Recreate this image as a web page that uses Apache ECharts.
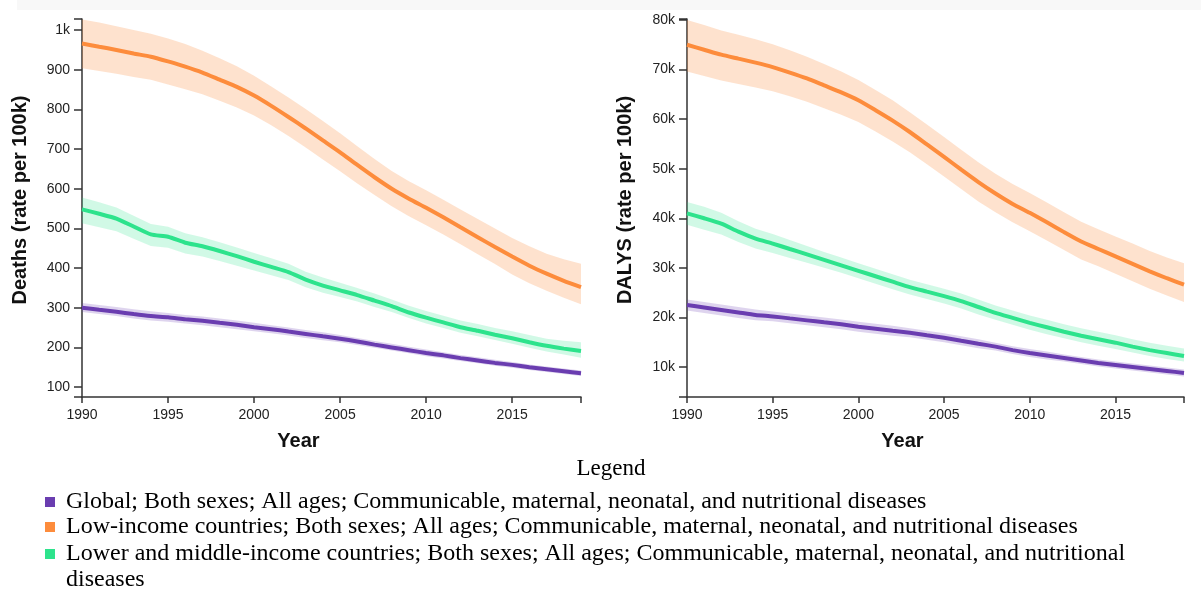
<!DOCTYPE html>
<html><head><meta charset="utf-8">
<script src="https://cdn.jsdelivr.net/npm/echarts@6/dist/echarts.min.js"></script>
<style>html,body{margin:0;padding:0;background:#fff}#c{width:1201px;height:591px}</style>
</head><body><div id="c"></div>
<script>
const years = [1990,1991,1992,1993,1994,1995,1996,1997,1998,1999,2000,2001,2002,2003,2004,2005,2006,2007,2008,2009,2010,2011,2012,2013,2014,2015,2016,2017,2018,2019];
const seriesNames = [
  'Global; Both sexes; All ages; Communicable, maternal, neonatal, and nutritional diseases',
  'Low-income countries; Both sexes; All ages; Communicable, maternal, neonatal, and nutritional diseases',
  'Lower and middle-income countries; Both sexes; All ages; Communicable, maternal, neonatal, and nutritional diseases'
];
const seriesColors = ['#6a3db0', '#fd8c3c', '#2de38c'];

// Deaths (rate per 100k)
const deathsGlobal = [300,295,290,284,279,276,271,267,262,257,251,246,240,234,228,222,215,207,200,193,186,180,173,167,161,156,150,145,140,135];
const deathsGlobalUpper = [312,307,302,296,291,287,282,278,273,268,262,256,250,244,238,231,224,216,209,202,195,188,181,175,169,163,157,152,147,142];
const deathsGlobalLower = [289,284,279,273,268,265,260,256,251,246,241,236,230,224,218,213,206,199,192,185,178,172,166,160,154,149,143,138,133,128];
const deathsLow = [966,958,950,941,933,921,908,893,875,857,835,809,781,752,722,692,660,629,600,575,552,528,503,478,453,429,406,386,368,352];
const deathsLowUpper = [1027,1019,1010,1000,991,979,965,948,929,909,885,858,830,801,771,740,707,675,645,619,596,572,548,524,500,476,455,436,422,411];
const deathsLowLower = [904,897,890,882,875,863,851,838,822,805,785,760,733,704,674,644,613,584,556,531,508,485,460,435,410,384,362,343,325,309];
const deathsLmic = [548,537,525,505,485,479,464,455,443,430,416,403,390,371,356,344,332,318,304,288,275,263,251,242,232,223,213,204,197,191];
const deathsLmicUpper = [578,566,553,532,511,504,488,478,465,452,438,425,411,391,376,363,350,336,321,305,292,280,268,259,249,241,231,222,217,213];
const deathsLmicLower = [513,503,493,474,456,451,437,429,418,406,394,382,370,352,338,327,316,302,289,274,260,249,237,228,219,209,199,190,182,174];

// DALYs (rate per 100k)
const dalysGlobal = [22500,22000,21500,21000,20500,20200,19800,19400,19000,18600,18100,17700,17300,16900,16400,15900,15300,14700,14100,13400,12800,12300,11800,11300,10800,10400,10000,9600,9200,8800];
const dalysGlobalUpper = [23600,23100,22600,22100,21600,21200,20800,20400,20000,19600,19100,18700,18300,17800,17300,16800,16200,15600,14900,14200,13600,13100,12500,12000,11500,11100,10700,10300,9900,9500];
const dalysGlobalLower = [21400,20900,20400,19900,19400,19200,18800,18400,18000,17600,17100,16700,16300,16000,15500,15000,14400,13800,13300,12600,12000,11500,11100,10600,10100,9700,9300,8900,8500,8100];
const dalysLow = [75000,74000,73000,72200,71400,70500,69400,68200,66800,65400,63800,61800,59700,57400,54900,52400,49800,47300,45000,42900,41100,39200,37200,35300,33800,32300,30800,29300,27900,26600];
const dalysLowUpper = [80000,79000,77900,77000,76100,75100,73900,72600,71100,69600,67900,65900,63800,61400,58900,56400,53800,51300,49000,46900,45100,43200,41200,39300,37800,36300,34900,33400,32100,30900];
const dalysLowLower = [69600,68700,67800,67100,66400,65600,64600,63500,62200,60900,59400,57500,55500,53300,50900,48400,45900,43400,41200,39200,37400,35500,33600,31700,30300,28800,27300,25800,24400,23100];
const dalysLmic = [41000,40000,38900,37300,35900,34900,33800,32700,31600,30500,29400,28300,27200,26100,25200,24300,23300,22100,20900,19900,18900,18000,17100,16300,15600,14900,14100,13400,12800,12200];
const dalysLmicUpper = [43300,42300,41100,39400,37900,36800,35600,34400,33200,32100,30900,29800,28700,27600,26700,25800,24800,23600,22400,21400,20400,19500,18600,17800,17100,16400,15600,14900,14300,13700];
const dalysLmicLower = [38700,37700,36700,35200,33900,33000,32000,31000,30000,29000,27900,26800,25700,24600,23700,22800,21800,20600,19500,18500,17500,16600,15800,15000,14300,13600,12900,12200,11600,11100];

// Axis ticks
const xTickLabels = [1990,1995,2000,2005,2010,2015];
const deathsTicks = [100,200,300,400,500,600,700,800,900,1000];
const dalysTicks = [10000,20000,30000,40000,50000,60000,70000,80000];
const deathsRange = [75, 1028];
const dalysRange = [3940, 80200];

const FONT = '"Liberation Sans", Arial, sans-serif';
const SERIF = '"Liberation Serif", "Times New Roman", serif';
const bandOpacity = [0.22, 0.25, 0.22];

const series = [];
function addGroup(gi, si, mean, lower, upper) {
  const color = seriesColors[si];
  const stackId = 'band_' + gi + '_' + si;
  // value dimension first so the stack is applied to the y values
  series.push({
    type: 'line', xAxisIndex: gi, yAxisIndex: gi, stack: stackId, name: 'lower_' + gi + '_' + si,
    data: years.map((y, i) => [lower[i], y]), encode: { x: 1, y: 0 }, symbol: 'none', silent: true,
    lineStyle: { opacity: 0 }, z: 1
  });
  series.push({
    type: 'line', xAxisIndex: gi, yAxisIndex: gi, stack: stackId, name: 'band_' + gi + '_' + si,
    data: years.map((y, i) => [upper[i] - lower[i], y]), encode: { x: 1, y: 0 }, symbol: 'none', silent: true,
    lineStyle: { opacity: 0 }, areaStyle: { color: color, opacity: bandOpacity[si] }, z: 1
  });
  series.push({
    type: 'line', xAxisIndex: gi, yAxisIndex: gi, name: seriesNames[si],
    data: years.map((y, i) => [y, mean[i]]), symbol: 'none', smooth: 0.2,
    lineStyle: { color: color, width: 4 }, itemStyle: { color: color }, z: 3
  });
}
addGroup(0, 0, deathsGlobal, deathsGlobalLower, deathsGlobalUpper);
addGroup(0, 1, deathsLow, deathsLowLower, deathsLowUpper);
addGroup(0, 2, deathsLmic, deathsLmicLower, deathsLmicUpper);
addGroup(1, 0, dalysGlobal, dalysGlobalLower, dalysGlobalUpper);
addGroup(1, 1, dalysLow, dalysLowLower, dalysLowUpper);
addGroup(1, 2, dalysLmic, dalysLmicLower, dalysLmicUpper);

function xAxis(gi) {
  return {
    type: 'value', gridIndex: gi, min: years[0], max: years[years.length - 1],
    name: 'Year', nameLocation: 'middle', nameGap: 34,
    nameTextStyle: { fontFamily: FONT, fontSize: 20, fontWeight: 'bold', color: '#111', padding: [0, 66, 0, 0] },
    axisLine: { show: true, lineStyle: { color: '#333', width: 1.5 } },
    axisTick: { show: true, length: 6, lineStyle: { color: '#333', width: 1.5 }, customValues: xTickLabels.concat([years[years.length - 1]]) },
    axisLabel: { customValues: xTickLabels, fontFamily: FONT, fontSize: 14, color: '#222', margin: 11, formatter: v => String(v) },
    splitLine: { show: false }
  };
}
function yAxis(gi, name, range, ticks, fmt) {
  return {
    type: 'value', gridIndex: gi, min: range[0], max: range[1],
    name: name, nameLocation: 'middle', nameGap: 52,
    nameTextStyle: { fontFamily: FONT, fontSize: 20, fontWeight: 'bold', color: '#111', padding: [0, 0, 0, 16] },
    axisLine: { show: true, lineStyle: { color: '#333', width: 1.5 } },
    axisTick: { show: true, length: 8, lineStyle: { color: '#333', width: 1.5 }, customValues: [range[0]].concat(ticks, [range[1]]) },
    axisLabel: { customValues: ticks, fontFamily: FONT, fontSize: 14, color: '#222', margin: 12, formatter: fmt },
    splitLine: { show: false }
  };
}

const legendTop = [502, 527, 554];
const graphic = [
  { type: 'rect', shape: { x: 17, y: 0, width: 1184, height: 10 }, style: { fill: '#f8f8f8' }, silent: true, z: -10 },
  { type: 'text', x: 611, y: 469, style: { text: 'Legend', font: '23px ' + SERIF, fill: '#000', align: 'center', verticalAlign: 'middle' } }
];
seriesNames.forEach((n, i) => {
  graphic.push({ type: 'rect', shape: { x: 45, y: legendTop[i] - 5, width: 10, height: 10 }, style: { fill: seriesColors[i] } });
  graphic.push({ type: 'text', x: 66, y: legendTop[i] - 13, style: { text: n, font: '24px ' + SERIF, fill: '#000', align: 'left', verticalAlign: 'top', lineHeight: 26, width: 1100, overflow: 'break' } });
});

const chart = echarts.init(document.getElementById('c'), null, { renderer: 'canvas' });
chart.setOption({
  animation: false,
  backgroundColor: '#fff',
  grid: [
    { left: 82, top: 19, width: 499, height: 378 },
    { left: 687, top: 19, width: 497, height: 378 }
  ],
  xAxis: [xAxis(0), xAxis(1)],
  yAxis: [
    yAxis(0, 'Deaths (rate per 100k)', deathsRange, deathsTicks, v => v >= 1000 ? (v / 1000) + 'k' : String(v)),
    yAxis(1, 'DALYS (rate per 100k)', dalysRange, dalysTicks, v => (v / 1000) + 'k')
  ],
  series: series,
  graphic: graphic
});
</script></body></html>
